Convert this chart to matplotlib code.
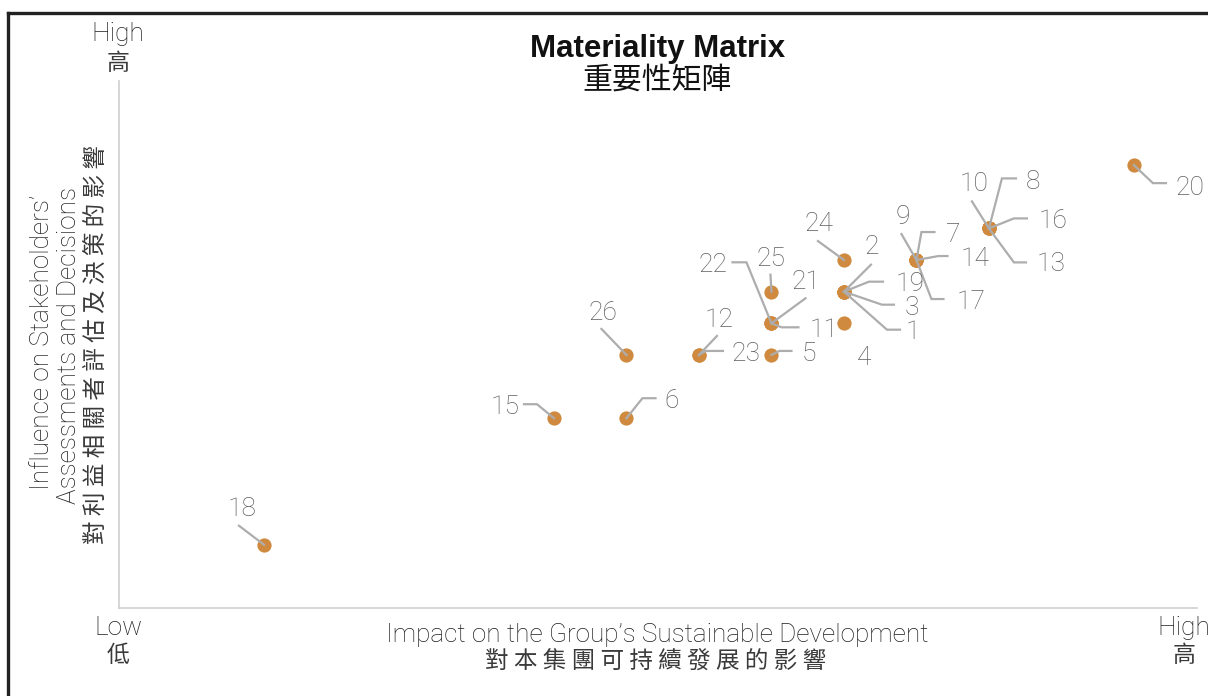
import matplotlib
matplotlib.use("Agg")
import matplotlib.pyplot as plt
from matplotlib.lines import Line2D

# ---------------- data ----------------
issue_ids = [1, 2, 3, 4, 5, 6, 7, 8, 9, 10, 11, 12, 13,
             14, 15, 16, 17, 18, 19, 20, 21, 22, 23, 24, 25, 26]
impact = [10, 10, 10, 10, 9, 7, 11, 12, 11, 12, 9, 8, 12,
          11, 6, 12, 11, 2, 10, 14, 9, 9, 8, 10, 9, 7]
influence = [10, 10, 10, 9, 8, 6, 11, 12, 11, 12, 9, 8, 12,
             11, 6, 12, 11, 2, 10, 14, 9, 9, 8, 11, 10, 8]

title_en = "Materiality Matrix"
title_zh = "重要性矩陣"
xlabel_en = "Impact on the Group’s Sustainable Development"
xlabel_zh = "對本集團可持續發展的影響"
ylabel_en1 = "Influence on Stakeholders’"
ylabel_en2 = "Assessments and Decisions"
ylabel_zh = "對利益相關者評估及決策的影響"

# ---------------- layout (pixel offsets: dx right, dy down) ----------------
label_layout = {
    18: (-22, -39, "center", [(0, 0), (-25, -19)]),
    15: (-34, -14, "right", [(0, 0), (-17, -14), (-30, -14)]),
    6: (38, -20, "left", [(0, 0), (16, -20), (29, -20)]),
    26: (-24, -45, "center", [(0, 0), (-25, -26)]),
    12: (20, -38, "center", [(0, 0), (18, -19)]),
    23: (33, -4, "left", [(0, 0), (7, -4), (24, -4)]),
    5: (30, -4, "left", [(0, 0), (8, -4), (20, -4)]),
    22: (-44, -61, "right", [(0, 0), (-25, -61), (-39, -61)]),
    11: (38, 4, "left", [(0, 0), (10, 4), (27, 4)]),
    21: (35, -44, "center", [(0, 0), (34, -25)]),
    25: (0, -36, "center", [(0, 0), (-1, -17)]),
    24: (-25, -39, "center", [(0, 0), (-26, -19)]),
    2: (28, -48, "center", [(0, 0), (27, -27)]),
    19: (52, -11, "left", [(0, 0), (25, -10), (39, -10)]),
    3: (61, 13, "left", [(0, 0), (38, 13), (50, 13)]),
    1: (62, 37, "left", [(0, 0), (43, 38), (56, 38)]),
    4: (20, 32, "center", []),
    9: (-14, -46, "center", [(0, 0), (-15, -26)]),
    7: (30, -28, "left", [(0, 0), (5, -28), (18, -28)]),
    14: (44, -4, "left", [(0, 0), (22, -4), (31, -4)]),
    17: (40, 39, "left", [(0, 0), (15, 39), (27, 39)]),
    10: (-15, -47, "center", [(0, 0), (-17, -27)]),
    8: (37, -49, "left", [(0, 0), (13, -50), (27, -50)]),
    16: (50, -10, "left", [(0, 0), (25, -10), (38, -10)]),
    13: (48, 33, "left", [(0, 0), (25, 34), (37, 34)]),
    20: (42, 20, "left", [(0, 0), (19, 18), (32, 18)]),
}

W, H = 1208, 696
LATIN = ["Roboto", "DejaVu Sans"]
CJK = ["Noto Sans CJK TC", "DejaVu Sans"]
POINT_C = "#D08A40"
LEADER_C = "#ADADAD"
NUM_C = "#5E5E5E"
TEXT_C = "#1E1E1E"
CJK_C = "#3A3A3A"

fig = plt.figure(figsize=(W / 100, H / 100), dpi=100)
fig.patch.set_facecolor("white")

ax_l, ax_r, ax_t, ax_b = 119, 1197, 81, 608
ax = fig.add_axes([ax_l / W, 1 - ax_b / H, (ax_r - ax_l) / W, (ax_b - ax_t) / H])
ax.set_xlim(0, 14.87)
ax.set_ylim(0, 16.66)
for s in ("top", "right"):
    ax.spines[s].set_visible(False)
for s in ("left", "bottom"):
    ax.spines[s].set_color("#CFCFCF")
    ax.spines[s].set_linewidth(1.2)
ax.set_xticks([])
ax.set_yticks([])

ax.scatter(impact, influence, s=105, color=POINT_C, zorder=3, linewidths=0)

fig.canvas.draw()
inv = ax.transData.inverted()
for iid, x, y in zip(issue_ids, impact, influence):
    dx, dy, ha, path = label_layout[iid]
    px, py = ax.transData.transform((x, y))
    if path:
        pts = [inv.transform((px + ox, py - oy)) for ox, oy in path]
        ax.add_line(Line2D([p[0] for p in pts], [p[1] for p in pts],
                           color=LEADER_C, lw=1.6, zorder=4, clip_on=False,
                           solid_joinstyle="miter"))
    ax.annotate(str(iid), xy=(x, y), xytext=(dx, -dy - 3), textcoords="offset pixels",
                ha=ha, va="center", fontsize=19, color=NUM_C,
                family=LATIN, fontweight="light", zorder=5)


def ftext(x, y, s, **kw):
    fig.text(x / W, 1 - y / H, s, **kw)


# frame (top and left edges visible)
fig.add_artist(Line2D([8 / W, 1.0], [1 - 13 / H, 1 - 13 / H], color="#222222",
                      lw=2.4, transform=fig.transFigure))
fig.add_artist(Line2D([8 / W, 8 / W], [1 - 13 / H, 0], color="#222222",
                      lw=2.4, transform=fig.transFigure))

# title
ftext(658, 49, title_en, ha="center", va="center", fontsize=22.5,
      family=["Liberation Sans", "DejaVu Sans"], fontweight="bold", color="#111111")
ftext(657, 80, title_zh, ha="center", va="center", fontsize=21.5,
      family=CJK, color="#111111")

# corner labels
for (cx, cy1, cy2, en, zh) in [(118, 34, 63, "High", "高"),
                               (118, 628, 656, "Low", "低"),
                               (1184, 628, 656, "High", "高")]:
    ftext(cx, cy1, en, ha="center", va="center", fontsize=19, family=LATIN,
          fontweight="light", color=TEXT_C)
    ftext(cx, cy2, zh, ha="center", va="center", fontsize=16.5, family=CJK,
          color=CJK_C)

# x label
ftext(657, 635, xlabel_en, ha="center", va="center", fontsize=18.8, family=LATIN,
      fontweight="light", color=TEXT_C)
ftext(656, 662, " ".join(xlabel_zh), ha="center", va="center", fontsize=17,
      family=CJK, color=CJK_C)

# y label
ftext(42, 342, ylabel_en1, ha="center", va="center", rotation=90, fontsize=18.8,
      family=LATIN, fontweight="light", color=TEXT_C)
ftext(69, 346, ylabel_en2, ha="center", va="center", rotation=90, fontsize=18.8,
      family=LATIN, fontweight="light", color=TEXT_C)
ftext(96, 344, " ".join(ylabel_zh), ha="center", va="center", rotation=90,
      fontsize=17, family=CJK, color=CJK_C)

fig.savefig("out.png", dpi=100)
